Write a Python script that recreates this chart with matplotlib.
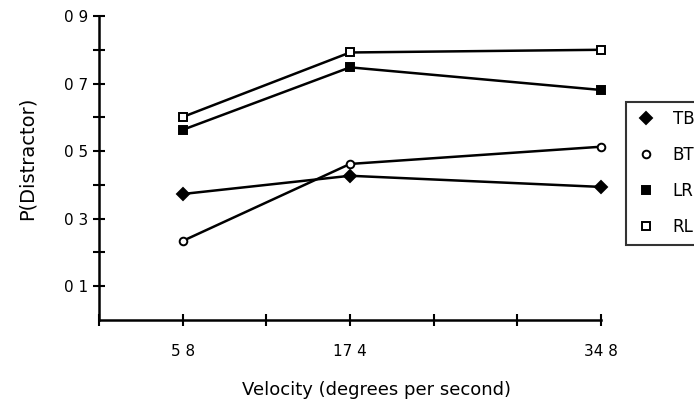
import numpy as np
import matplotlib
matplotlib.use('Agg')
import matplotlib.pyplot as plt

velocity = [5.8, 17.4, 34.8]
tb = [0.373, 0.427, 0.394]
bt = [0.234, 0.462, 0.513]
lr = [0.563, 0.748, 0.681]
rl = [0.601, 0.792, 0.800]

series_names = ['TB', 'BT', 'LR', 'RL']
x_labels = ['5 8', '17 4', '34 8']
y_ticks = [0.1, 0.3, 0.5, 0.7, 0.9]
y_labels = ['0 1', '0 3', '0 5', '0 7', '0 9']

plt.rcParams['font.family'] = ['DejaVu Sans']

fig = plt.figure(figsize=(6.94, 4.03), dpi=100)
W, H = 694, 403
ax = fig.add_axes([99 / W, 1 - 320 / H, (601 - 99) / W, (320 - 16) / H])

styles = [
    dict(marker='D', markersize=6, markerfacecolor='black'),
    dict(marker='o', markersize=5.5, markerfacecolor='white'),
    dict(marker='s', markersize=6, markerfacecolor='black'),
    dict(marker='s', markersize=6, markerfacecolor='white'),
]
for vals, name, st in zip([tb, bt, lr, rl], series_names, styles):
    ax.plot(velocity, vals, color='black', lw=1.8, markeredgecolor='black',
            markeredgewidth=1.4, label=name, clip_on=False, **st)

ax.set_xlim(0, 34.8)
ax.set_ylim(0, 0.9)
for s in ['top', 'right']:
    ax.spines[s].set_visible(False)
for s in ['left', 'bottom']:
    ax.spines[s].set_linewidth(1.8)

ax.set_xticks(np.arange(7) * 5.8)
ax.set_xticklabels(['', x_labels[0], '', x_labels[1], '', '', x_labels[2]], fontsize=11)
ax.set_yticks(np.arange(1, 10) / 10)
ylab = dict(zip(y_ticks, y_labels))
ax.set_yticklabels([ylab.get(round(v, 1), '') for v in np.arange(1, 10) / 10], fontsize=11)
ax.tick_params(axis='both', direction='inout', length=8, width=1.5)
ax.tick_params(axis='x', pad=13)
ax.tick_params(axis='y', pad=3.5)

ax.set_xlabel('Velocity (degrees per second)', fontsize=13)
ax.xaxis.set_label_coords((376 - 99) / (601 - 99), -(381 - 320) / (320 - 16))
ax.set_ylabel('P(Distractor)', fontsize=14)
ax.yaxis.set_label_coords(-(99 - 37) / (601 - 99), (320 - 158) / (320 - 16))

leg = fig.legend(loc='upper left', bbox_to_anchor=(626 / W, 1 - 102 / H),
                 frameon=True, fancybox=False, fontsize=12, handlelength=1.4,
                 handletextpad=0.9, labelspacing=1.08, borderpad=0.5,
                 borderaxespad=0)
leg.get_frame().set_edgecolor('black')
leg.get_frame().set_linewidth(1.5)
for h in leg.legend_handles:
    h.set_linestyle('none')

fig.savefig('out.png', dpi=100)
